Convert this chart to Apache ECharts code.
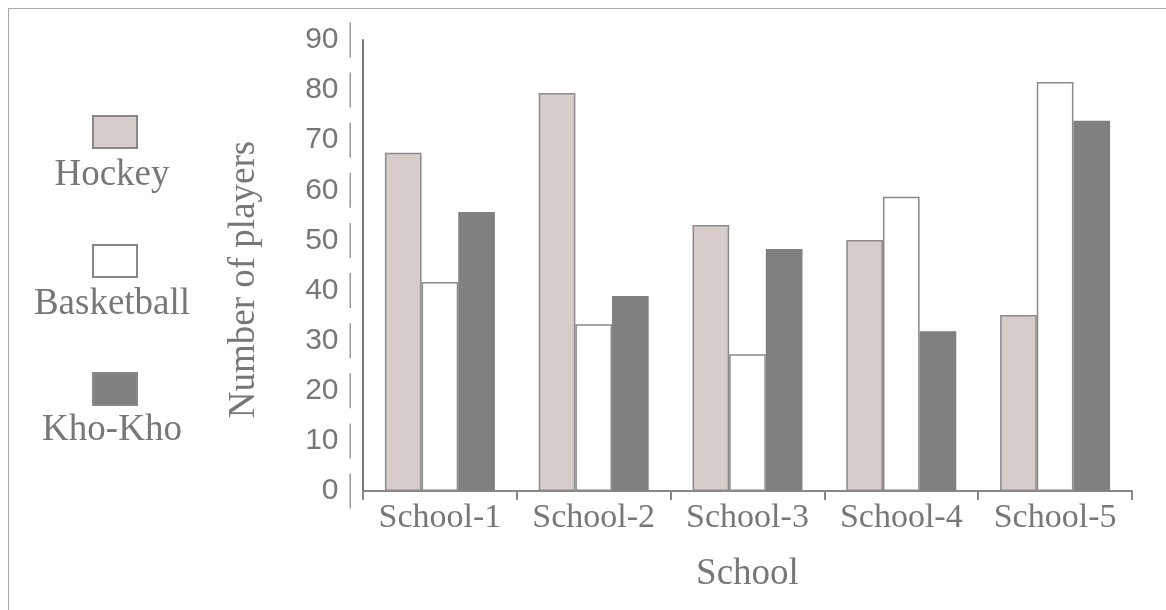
<!DOCTYPE html>
<html>
<head>
<meta charset="utf-8">
<script src="https://cdn.jsdelivr.net/npm/echarts@6/dist/echarts.min.js"></script>
<style>
  html, body { margin: 0; padding: 0; background: #fff; overflow: hidden; }
  #frame { position: absolute; left: 8px; top: 8px; right: -10px; bottom: -10px; border-top: 1.5px solid #a8a8a8; border-left: 1.5px solid #a8a8a8; }
  #chart { position: absolute; left: 0; top: 0; width: 1166px; height: 610px; }
</style>
</head>
<body>
<div id="frame"></div>
<div id="chart"></div>
<script>
const categories = ['School-1', 'School-2', 'School-3', 'School-4', 'School-5'];
const seriesNames = ['Hockey', 'Basketball', 'Kho-Kho'];
const hockey = [67.5, 79.4, 53.1, 50.1, 35.1];
const basketball = [41.7, 33.3, 27.3, 58.7, 81.6];
const khoKho = [55.7, 38.9, 48.3, 31.9, 73.9];
const yTicks = [0, 10, 20, 30, 40, 50, 60, 70, 80, 90];

const chart = echarts.init(document.getElementById('chart'));
const serif = 'Liberation Serif, Times New Roman, serif';
const sans = 'Liberation Sans, Arial, sans-serif';
const txt = '#777';
const fills = ['#d6cdca', '#ffffff', '#808080'];
const borders = ['#8a8a8a', '#8a8a8a', '#808080'];
const values = [hockey, basketball, khoKho];
const legendTops = [115, 244, 372];
const legendTextY = [175, 304, 430];

chart.setOption({
  animation: false,
  grid: { left: 363, right: 34, top: 40, bottom: 119, containLabel: false },
  legend: seriesNames.map((n, i) => ({
    data: [n],
    left: 92, top: legendTops[i],
    orient: 'vertical',
    padding: 0,
    itemWidth: 44, itemHeight: 32,
    icon: 'rect',
    formatter: () => '',
    itemStyle: { color: fills[i], borderColor: '#888', borderWidth: 2 },
    selectedMode: false
  })),
  graphic: seriesNames.map((n, i) => ({
    type: 'text',
    x: 112, y: legendTextY[i],
    style: { text: n, fill: txt, font: '37px ' + serif, textAlign: 'center', textVerticalAlign: 'middle' }
  })),
  xAxis: {
    type: 'category',
    data: categories,
    name: 'School',
    nameLocation: 'middle',
    nameGap: 65,
    nameTextStyle: { color: txt, fontFamily: serif, fontSize: 37 },
    axisLine: { lineStyle: { color: '#888', width: 2 } },
    axisTick: { show: true, interval: 0, length: 9, lineStyle: { color: '#888', width: 2 } },
    axisLabel: { interval: 0, hideOverlap: false, color: txt, fontFamily: serif, fontSize: 34, margin: 10 },
    splitLine: { show: false }
  },
  yAxis: {
    type: 'value',
    min: 0, max: 90, interval: 10,
    name: 'Number of players',
    nameLocation: 'middle',
    nameGap: 100,
    nameTextStyle: { color: txt, fontFamily: serif, fontSize: 37, padding: [0, 28, 0, 0] },
    axisLine: { show: true, lineStyle: { color: '#777', width: 2 } },
    axisTick: { show: false },
    splitLine: { show: false },
    axisLabel: {
      margin: 12,
      formatter: v => yTicks.includes(v) ? '{v|' + v + '}{s| }' : '',
      rich: {
        v: { color: txt, fontFamily: sans, fontSize: 30, padding: [0, 11, 0, 0] },
        s: { width: 1.5, height: 35, backgroundColor: '#999', fontSize: 1 }
      }
    }
  },
  series: seriesNames.map((n, i) => ({
    name: n,
    type: 'bar',
    data: values[i],
    barGap: '0%',
    barCategoryGap: '28.5%',
    itemStyle: { color: fills[i], borderColor: borders[i], borderWidth: 1.5 }
  }))
});
</script>
</body>
</html>
